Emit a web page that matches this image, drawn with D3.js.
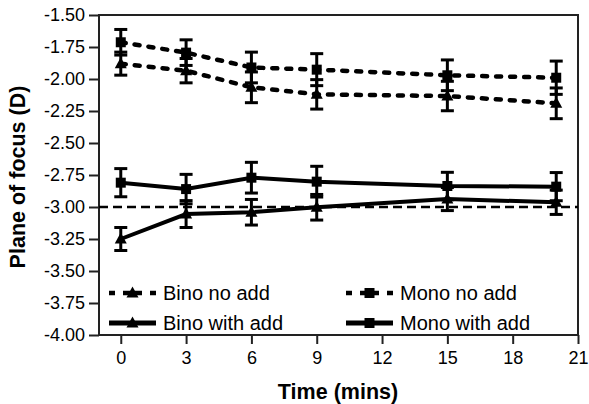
<!DOCTYPE html>
<html>
<head>
<meta charset="utf-8">
<script src="https://cdn.jsdelivr.net/npm/d3@7"></script>
<style>
  body { margin: 0; background: #fff; }
  svg { display: block; font-family: "Liberation Sans", Arial, sans-serif; }
</style>
</head>
<body>
<div class="chart"></div>
<script>
var width = 589, height = 404;

// data
var times = [0, 3, 6, 9, 15, 20];
var binoNoAdd = [-1.88, -1.935, -2.065, -2.12, -2.133, -2.19];
var binoNoAddErr = [0.09, 0.095, 0.12, 0.115, 0.115, 0.12];
var monoNoAdd = [-1.713, -1.794, -1.91, -1.927, -1.971, -1.99];
var monoNoAddErr = [0.1, 0.1, 0.12, 0.125, 0.12, 0.13];
var binoAdd = [-3.25, -3.055, -3.041, -3.002, -2.938, -2.963];
var binoAddErr = [0.09, 0.105, 0.1, 0.1, 0.09, 0.095];
var monoAdd = [-2.81, -2.86, -2.771, -2.802, -2.836, -2.841];
var monoAddErr = [0.11, 0.115, 0.12, 0.12, 0.107, 0.11];
var xTicks = [0, 3, 6, 9, 12, 15, 18, 21];
var yTicks = [-4, -3.75, -3.5, -3.25, -3, -2.75, -2.5, -2.25, -2, -1.75, -1.5];
var refLevel = -3;

var series = [
  {name: "Bino no add", vals: binoNoAdd, err: binoNoAddErr, shape: "tri", dashed: true},
  {name: "Mono no add", vals: monoNoAdd, err: monoNoAddErr, shape: "sq", dashed: true},
  {name: "Bino with add", vals: binoAdd, err: binoAddErr, shape: "tri", dashed: false},
  {name: "Mono with add", vals: monoAdd, err: monoAddErr, shape: "sq", dashed: false}
];

var x = d3.scaleLinear().domain([-1, 21]).range([99, 578]);
var y = d3.scaleLinear().domain([-4, -1.5]).range([335, 15]);

var svg = d3.select(".chart")
  .append("svg")
    .attr("width", width)
    .attr("height", height);

function shapePath(s) {
  return s == "tri" ? "M0,-6.5L6,4.5L-6,4.5Z" : "M-5,-5H5V5H-5Z";
}

// axes
var yAxis = svg.append("g")
  .attr("transform", "translate(99,0)")
  .call(d3.axisLeft(y).tickValues(yTicks).tickSize(10).tickPadding(4)
    .tickFormat(function(d) { return d.toFixed(2); }));
var xAxis = svg.append("g")
  .attr("transform", "translate(0,335)")
  .call(d3.axisBottom(x).tickValues(xTicks).tickSize(9).tickPadding(7));

[yAxis, xAxis].forEach(function(g) {
  g.select(".domain").remove();
  g.selectAll(".tick line").attr("stroke", "#222").attr("stroke-width", 2);
  g.selectAll(".tick text").attr("fill", "#000")
    .style("font-size", "18px")
    .style("font-family", "'Liberation Sans', Arial, sans-serif");
});

// frame
svg.append("rect")
  .attr("x", x(-1)).attr("y", y(-1.5))
  .attr("width", x(21) - x(-1)).attr("height", y(-4) - y(-1.5))
  .attr("fill", "none").attr("stroke", "#222").attr("stroke-width", 2);

// reference line at -3.00
svg.append("line")
  .attr("x1", x(-1)).attr("x2", x(21))
  .attr("y1", y(refLevel)).attr("y2", y(refLevel))
  .attr("stroke", "#000").attr("stroke-width", 2.5)
  .attr("stroke-dasharray", "9,5");

var line = d3.line()
  .x(function(d) { return x(d[0]); })
  .y(function(d) { return y(d[1]); });

series.forEach(function(s) {
  var pts = times.map(function(t, i) { return [t, s.vals[i], s.err[i]]; });
  var g = svg.append("g");

  // error bars
  pts.forEach(function(p) {
    var cx = x(p[0]), top = y(p[1] + p[2]), bot = y(p[1] - p[2]);
    g.append("line").attr("x1", cx).attr("x2", cx).attr("y1", top).attr("y2", bot)
      .attr("stroke", "#000").attr("stroke-width", 3);
    [top, bot].forEach(function(yy) {
      g.append("line").attr("x1", cx - 6.5).attr("x2", cx + 6.5).attr("y1", yy).attr("y2", yy)
        .attr("stroke", "#000").attr("stroke-width", 3);
    });
  });

  g.append("path")
    .attr("d", line(pts))
    .attr("fill", "none")
    .attr("stroke", "#000")
    .attr("stroke-width", s.dashed ? 4.5 : 4)
    .attr("stroke-linecap", s.dashed ? "round" : "butt")
    .attr("stroke-dasharray", s.dashed ? "5,9" : null);

  g.selectAll(".mk").data(pts).enter().append("path")
    .attr("class", "mk")
    .attr("transform", function(p) { return "translate(" + x(p[0]) + "," + y(p[1]) + ")"; })
    .attr("d", shapePath(s.shape))
    .attr("fill", "#000");
});

// legend
var legPos = [[109, 293], [346, 293], [109, 323], [346, 323]];
series.forEach(function(s, i) {
  var lx = legPos[i][0], ly = legPos[i][1];
  var g = svg.append("g").attr("transform", "translate(" + lx + "," + ly + ")");
  g.append("line").attr("x1", 0).attr("x2", 47).attr("y1", 0).attr("y2", 0)
    .attr("stroke", "#000").attr("stroke-width", s.dashed ? 4.5 : 5)
    .attr("stroke-dasharray", s.dashed ? "6,8,19,8,6" : null);
  g.append("path").attr("transform", "translate(23.5,0)")
    .attr("d", shapePath(s.shape)).attr("fill", "#000");
  g.append("text").attr("x", 54).attr("y", 7)
    .style("font-size", "20px")
    .text(s.name);
});

// axis titles
svg.append("text")
  .attr("x", 338).attr("y", 399)
  .attr("text-anchor", "middle")
  .style("font-size", "21.5px").style("font-weight", "bold")
  .text("Time (mins)");
svg.append("text")
  .attr("transform", "translate(25,177) rotate(-90)")
  .attr("text-anchor", "middle")
  .style("font-size", "21.5px").style("font-weight", "bold")
  .text("Plane of focus (D)");
</script>
</body>
</html>
